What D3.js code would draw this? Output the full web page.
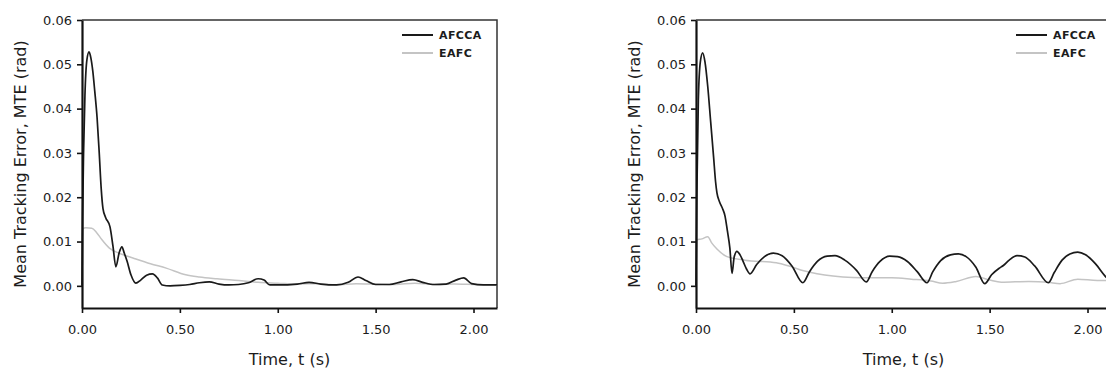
<!DOCTYPE html>
<html>
<head>
<meta charset="utf-8">
<script src="https://cdn.jsdelivr.net/npm/d3@7"></script>
<style>
	body { margin: 0; background: #fff; }
	svg { display: block; }
	text { font-family: "DejaVu Sans", Arial, sans-serif; fill: #1c1c1c; }
</style>
</head>
<body>
<script>
// [time (s), MTE (rad)] pairs
const leftAfcca = [
	[0, 0], [0.003, 0.015], [0.008, 0.030], [0.015, 0.043], [0.025, 0.051], [0.036, 0.0528],
	[0.045, 0.0515], [0.055, 0.0485], [0.065, 0.044], [0.077, 0.038], [0.088, 0.030], [0.098, 0.022],
	[0.107, 0.0175], [0.12, 0.0155], [0.143, 0.0133], [0.158, 0.009], [0.173, 0.0043], [0.19, 0.0075],
	[0.204, 0.0088], [0.215, 0.0075], [0.23, 0.0056], [0.25, 0.0025], [0.275, 0.0006], [0.3, 0.0013],
	[0.33, 0.0024], [0.36, 0.0027], [0.385, 0.0018], [0.41, 0.0002], [0.45, 0.0], [0.5, 0.0001],
	[0.55, 0.0003], [0.6, 0.0007], [0.65, 0.0009], [0.7, 0.0004], [0.75, 0.0002], [0.8, 0.0003],
	[0.85, 0.0007], [0.9, 0.0016], [0.93, 0.0013], [0.96, 0.0002], [1.0, 0.0002], [1.1, 0.0004],
	[1.16, 0.0008], [1.22, 0.0004], [1.3, 0.0002], [1.36, 0.0008], [1.41, 0.002], [1.45, 0.0012],
	[1.5, 0.0003], [1.57, 0.0003], [1.63, 0.0009], [1.69, 0.0014], [1.74, 0.0008], [1.8, 0.0003],
	[1.86, 0.0004], [1.91, 0.0013], [1.95, 0.0018], [1.99, 0.0005], [2.05, 0.0002], [2.12, 0.0002]
];
const leftEafc = [
	[0, 0], [0.003, 0.0128], [0.02, 0.0131], [0.05, 0.013], [0.075, 0.012], [0.1, 0.0105],
	[0.14, 0.0085], [0.2, 0.0072], [0.26, 0.0063], [0.35, 0.005], [0.43, 0.004], [0.53, 0.0025],
	[0.6, 0.002], [0.69, 0.0016], [0.8, 0.0012], [0.9, 0.0008], [1.0, 0.0006], [1.1, 0.0004],
	[1.2, 0.0005], [1.3, 0.0002], [1.4, 0.0005], [1.5, 0.0004], [1.6, 0.0003], [1.7, 0.0006],
	[1.8, 0.0003], [1.9, 0.0004], [2.0, 0.0003], [2.12, 0.0002]
];
const rightAfcca = [
	[0, 0], [0.004, 0.020], [0.012, 0.042], [0.022, 0.0505], [0.034, 0.0526], [0.046, 0.0505],
	[0.06, 0.045], [0.075, 0.037], [0.09, 0.029], [0.1, 0.0235], [0.107, 0.021], [0.12, 0.019],
	[0.135, 0.0175], [0.148, 0.0158], [0.16, 0.0125], [0.173, 0.0085], [0.184, 0.0028], [0.195, 0.0065],
	[0.209, 0.0078], [0.225, 0.007], [0.24, 0.0056], [0.258, 0.0038], [0.276, 0.0027],
	[0.31, 0.0048], [0.35, 0.0066], [0.395, 0.0074], [0.44, 0.0068], [0.49, 0.0045], [0.546, 0.0007],
	[0.58, 0.0032], [0.62, 0.0055], [0.67, 0.0067], [0.71, 0.0068], [0.76, 0.0058], [0.82, 0.0035], [0.87, 0.0009],
	[0.9, 0.0032], [0.94, 0.0055], [0.99, 0.0067], [1.03, 0.0066], [1.08, 0.0055], [1.13, 0.0032], [1.18, 0.0007],
	[1.21, 0.0032], [1.25, 0.0057], [1.3, 0.007], [1.34, 0.0072], [1.38, 0.0066], [1.43, 0.0042], [1.475, 0.0005],
	[1.51, 0.0025], [1.55, 0.004], [1.57, 0.0046], [1.6, 0.0058], [1.64, 0.0068], [1.68, 0.0065], [1.73, 0.0045], [1.8, 0.0007],
	[1.83, 0.003], [1.87, 0.0058], [1.91, 0.0072], [1.95, 0.0076], [1.99, 0.007], [2.04, 0.005], [2.09, 0.0022], [2.12, 0.0008]
];
const rightEafc = [
	[0, 0], [0.004, 0.0104], [0.03, 0.0106], [0.06, 0.0111], [0.08, 0.0097], [0.107, 0.0083],
	[0.158, 0.0066], [0.25, 0.0058], [0.41, 0.0052], [0.48, 0.0044], [0.55, 0.0034], [0.7, 0.0022],
	[0.8, 0.0019], [1.0, 0.0018], [1.1, 0.0015], [1.2, 0.0011], [1.26, 0.0006], [1.33, 0.001],
	[1.43, 0.0021], [1.5, 0.0013], [1.56, 0.0008], [1.7, 0.001], [1.8, 0.0008], [1.86, 0.0005],
	[1.95, 0.0015], [2.05, 0.0012], [2.12, 0.0012]
];

const seriesNames = ["AFCCA", "EAFC"];
const xTicks = [0, 0.5, 1.0, 1.5, 2.0];
const yTicks = [0, 0.01, 0.02, 0.03, 0.04, 0.05, 0.06];
const xDomain = [0, 2.12];
const yDomain = [-0.005, 0.06];
const xTitle = "Time, t (s)";
const yTitle = "Mean Tracking Error, MTE (rad)";

document.addEventListener("DOMContentLoaded", function(event) {
	const svg = d3.select("body")
		.append("svg")
		.attr("width", 1106)
		.attr("height", 369);

	//two panels side by side, same axes
	createPanel(svg, 82, [leftAfcca, leftEafc]);
	createPanel(svg, 696, [rightAfcca, rightEafc]);
});

/**
 * draw one panel: frame, axes, both lines and the legend
 *
 * @param svg, root svg selection
 * @param left, x position of the y axis
 * @param data, array of two series (black, grey)
 */
function createPanel(svg, left, data) {
	const top = 20;
	const h = 288;
	const w = 415;
	const colors = ["#1a1a1a", "#c4c4c4"];
	const widths = [1.7, 1.5];

	const g = svg.append("g").attr("transform", "translate(" + left + "," + top + ")");

	const x = d3.scaleLinear().domain(xDomain).range([0, w]);
	const y = d3.scaleLinear().domain(yDomain).range([h, 0]);

	const line = d3.line()
		.x(function(d) { return x(d[0]); })
		.y(function(d) { return y(d[1]); })
		.curve(d3.curveMonotoneX);

	//top and right frame
	g.append("path")
		.attr("d", "M0,0H" + w + "V" + h)
		.attr("fill", "none")
		.attr("stroke", "#333")
		.attr("stroke-width", 1.5);

	//grey first so the black line sits on top
	[1, 0].forEach(function(i) {
		g.append("path")
			.datum(data[i])
			.attr("fill", "none")
			.attr("stroke", colors[i])
			.attr("stroke-width", widths[i])
			.attr("stroke-linejoin", "round")
			.attr("d", line);
	});

	const fmt = d3.format(".2f");

	const xAxis = g.append("g")
		.attr("transform", "translate(0," + h + ")")
		.call(d3.axisBottom(x).tickValues(xTicks).tickFormat(fmt).tickSize(5).tickSizeOuter(0).tickPadding(12));

	const yAxis = g.append("g")
		.call(d3.axisLeft(y).tickValues(yTicks).tickFormat(fmt).tickSize(5).tickSizeOuter(0).tickPadding(5));

	[xAxis, yAxis].forEach(function(a) {
		a.select(".domain").attr("stroke", "#111").attr("stroke-width", 2.2);
		a.selectAll(".tick line").attr("stroke", "#111").attr("stroke-width", 1.6);
		a.selectAll(".tick text")
			.attr("fill", "#1c1c1c")
			.style("font-family", "'DejaVu Sans', Arial, sans-serif")
			.style("font-size", "13px");
	});

	//axis titles
	g.append("text")
		.attr("x", w / 2)
		.attr("y", 345)
		.attr("text-anchor", "middle")
		.style("font-size", "16px")
		.text(xTitle);

	g.append("text")
		.attr("transform", "translate(-56," + (h / 2) + ") rotate(-90)")
		.attr("text-anchor", "middle")
		.style("font-size", "16px")
		.text(yTitle);

	//legend
	const legend = g.append("g");
	seriesNames.forEach(function(name, i) {
		const ly = 15 + i * 18;
		legend.append("line")
			.attr("x1", w - 95)
			.attr("x2", w - 64)
			.attr("y1", ly)
			.attr("y2", ly)
			.attr("stroke", colors[i])
			.attr("stroke-width", 2);
		legend.append("text")
			.attr("x", w - 58)
			.attr("y", ly + 4)
			.style("font-size", "11px")
			.style("font-weight", "bold")
			.style("letter-spacing", "0.4px")
			.text(name);
	});
}
</script>
</body>
</html>
